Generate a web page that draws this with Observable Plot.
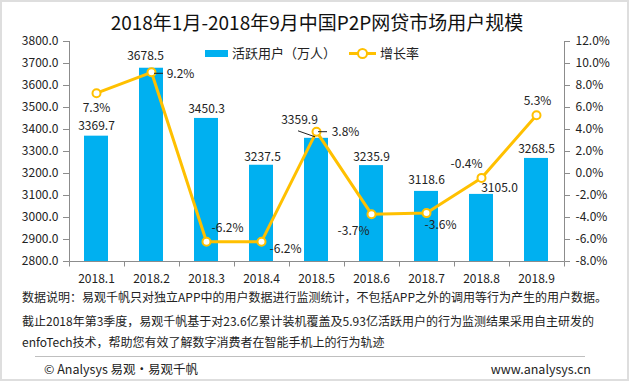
<!DOCTYPE html>
<html><head><meta charset="utf-8">
<script src="https://cdn.jsdelivr.net/npm/d3@7"></script>
<script src="https://cdn.jsdelivr.net/npm/@observablehq/plot@0.6"></script>
<style>
body{margin:0;background:#fff;}
#wrap{position:relative;width:629px;height:381px;overflow:hidden;background:#fff;font-family:'Noto Sans CJK SC','Noto Sans',sans-serif;color:#222;}
#wrap svg{position:absolute;left:0;top:0;overflow:visible;}
.abs{position:absolute;white-space:nowrap;}
#border{position:absolute;left:0;top:0;width:629px;height:381px;box-sizing:border-box;border:2px solid #dedede;pointer-events:none;}
</style></head>
<body>
<div id="wrap">
  <div class="abs" id="title" style="left:0;width:634px;text-align:center;top:10px;font-size:19px;line-height:24px;color:#111;"></div>
  <div class="abs" style="left:205px;top:50px;width:23px;height:7px;background:#00B0F0;"></div>
  <div class="abs" id="leg1" style="left:232px;top:44px;font-size:13px;line-height:18px;"></div>
  <div class="abs" style="left:349px;top:52px;width:27px;height:3px;background:#FFC000;"></div>
  <div class="abs" style="left:357px;top:48px;width:7px;height:7px;border:2px solid #FFC000;border-radius:50%;background:#fff;"></div>
  <div class="abs" id="leg2" style="left:380px;top:44px;font-size:13px;line-height:18px;"></div>
  <div class="abs" id="note1" style="left:22px;top:289px;font-size:12px;line-height:16px;"></div>
  <div class="abs" id="note2" style="left:22px;top:313px;font-size:12px;line-height:16px;"></div>
  <div class="abs" id="note3" style="left:22px;top:334px;font-size:12px;line-height:16px;"></div>
  <div class="abs" style="left:35px;top:356px;width:550px;height:1px;background:#bfbfbf;"></div>
  <div class="abs" id="foot1" style="left:44px;top:360px;font-size:12.5px;line-height:17px;"></div>
  <div class="abs" id="foot2" style="right:38px;top:360px;font-size:12.5px;line-height:17px;"></div>
  <div id="border"></div>
</div>
<script>
// ---- data ----
const titleText = "2018年1月-2018年9月中国P2P网贷市场用户规模";
const seriesBar = "活跃用户（万人）";
const seriesLine = "增长率";
const categories = ["2018.1","2018.2","2018.3","2018.4","2018.5","2018.6","2018.7","2018.8","2018.9"];
const users = [3369.7, 3678.5, 3450.3, 3237.5, 3359.9, 3235.9, 3118.6, 3105.0, 3268.5];
const growth = [7.3, 9.2, -6.2, -6.2, 3.8, -3.7, -3.6, -0.4, 5.3];
const leftTicks = [2800, 2900, 3000, 3100, 3200, 3300, 3400, 3500, 3600, 3700, 3800];
const rightTicks = [-8, -6, -4, -2, 0, 2, 4, 6, 8, 10, 12];
const notes = [
  "数据说明：易观千帆只对独立APP中的用户数据进行监测统计，不包括APP之外的调用等行为产生的用户数据。",
  "截止2018年第3季度，易观千帆基于对23.6亿累计装机覆盖及5.93亿活跃用户的行为监测结果采用自主研发的",
  "enfoTech技术，帮助您有效了解数字消费者在智能手机上的行为轨迹"
];
const footLeft = "© Analysys 易观•易观千帆";
const footRight = "www.analysys.cn";

// ---- label placement (styling, pixel offsets) ----
const barLabelOffsets = [[0,-10],[-6,-12],[0,-9],[1,-8],[-17,-18],[0,-8],[0,-11],[18,-6],[0,-9]];
const growthLabelOffsets = [[0,15],[29,2],[21,-14],[24,7],[29,0],[-18,17],[14,12],[-15,-14],[1,-14]];

// ---- styles ----
const barColor = "#00B0F0", lineColor = "#FFC000", axisColor = "#8c8c8c", textColor = "#222";

document.getElementById("title").textContent = titleText;
document.getElementById("leg1").textContent = seriesBar;
document.getElementById("leg2").textContent = seriesLine;
["note1","note2","note3"].forEach((id,i)=>document.getElementById(id).textContent = notes[i]);
document.getElementById("foot1").textContent = footLeft;
document.getElementById("foot2").textContent = footRight;

// growth (%) mapped onto the left scale domain
const gMin = -8, gMax = 12, yMin = 2800, yMax = 3800;
const g2y = g => yMin + (g - gMin) * (yMax - yMin) / (gMax - gMin);
const y2g = v => gMin + (v - yMin) * (gMax - gMin) / (yMax - yMin);

const rows = categories.map((c,i)=>({cat:c, users:users[i], growth:growth[i], gy:g2y(growth[i])}));

function frameMark(index, scales, values, dim) {
  const g = d3.create("svg:g").attr("stroke", axisColor).attr("stroke-width", 1).attr("fill","none");
  const x0 = dim.marginLeft + 0.5, x1 = dim.width - dim.marginRight + 0.5;
  const yb = dim.height - dim.marginBottom + 0.5, yt = dim.marginTop;
  g.append("line").attr("x1",x0).attr("x2",x0).attr("y1",yt).attr("y2",yb);
  g.append("line").attr("x1",x1).attr("x2",x1).attr("y1",yt).attr("y2",yb);
  g.append("line").attr("x1",x0).attr("x2",x1).attr("y1",yb).attr("y2",yb);
  const step = (x1 - x0) / categories.length;
  for (let i = 0; i <= categories.length; i++) {
    const x = Math.round(x0 + i*step - 0.5) + 0.5;
    g.append("line").attr("x1",x).attr("x2",x).attr("y1",yb).attr("y2",yb+5);
  }
  return g.node();
}

function leaderMark(index, scales) {
  const g = d3.create("svg:g").attr("stroke", "#222").attr("stroke-width", 1);
  const bw = scales.x.bandwidth ? scales.x.bandwidth() : 0;
  const cx = c => scales.x(c) + bw/2;
  const r1 = rows[1];
  g.append("line").attr("x1", cx(r1.cat)+3).attr("x2", cx(r1.cat)+12)
    .attr("y1", scales.y(r1.gy)+1.5).attr("y2", scales.y(r1.gy)+1.5);
  const r4 = rows[4];
  g.append("line").attr("x1", cx(r4.cat)+2).attr("x2", cx(r4.cat)+11)
    .attr("y1", scales.y(r4.gy)+0.5).attr("y2", scales.y(r4.gy)+0.5);
  g.append("line").attr("x1", cx(r4.cat)-18).attr("x2", cx(r4.cat)-1)
    .attr("y1", scales.y(r4.users)-7).attr("y2", scales.y(r4.users)-1);
  return g.node();
}

const barLabels = rows.map((r,i)=>Plot.text([r], {x:"cat", y:"users", text:d=>d.users.toFixed(1),
  dx: barLabelOffsets[i][0], dy: barLabelOffsets[i][1], fontSize: 12, fill: textColor}));
const growthLabels = rows.map((r,i)=>Plot.text([r], {x:"cat", y:"gy", text:d=>d.growth.toFixed(1)+"%",
  dx: growthLabelOffsets[i][0], dy: growthLabelOffsets[i][1], fontSize: 12, fill: textColor}));

const chart = Plot.plot({
  width: 629, height: 290,
  marginLeft: 69, marginRight: 65, marginTop: 41, marginBottom: 29,
  style: {fontFamily: "'Noto Sans CJK SC','Noto Sans',sans-serif", fontSize: "12px", background: "transparent", color: textColor},
  x: {domain: categories, paddingInner: 0.56, paddingOuter: 0.28, axis: null},
  y: {domain: [yMin, yMax], axis: null},
  marks: [
    Plot.barY(rows, {x:"cat", y1: yMin, y2:"users", fill: barColor}),
    frameMark,
    Plot.axisY(leftTicks, {anchor:"left", tickSize:6, tickPadding:5, tickFormat:d=>d.toFixed(1), label:null, stroke: axisColor, fill: textColor, fontSize: 12}),
    Plot.axisY(rightTicks.map(g2y), {anchor:"right", tickSize:5, tickPadding:6, tickFormat:v=>y2g(v).toFixed(1)+"%", label:null, stroke: axisColor, fill: textColor, fontSize: 12}),
    Plot.axisX(categories, {tickSize:0, tickPadding:13, label:null, fill: textColor, fontSize: 12}),
    Plot.line(rows, {x:"cat", y:"gy", stroke: lineColor, strokeWidth: 3}),
    Plot.dot(rows, {x:"cat", y:"gy", r:4, fill:"#fff", stroke: lineColor, strokeWidth: 2}),
    leaderMark,
    ...barLabels,
    ...growthLabels
  ]
});
document.getElementById("wrap").insertBefore(chart, document.getElementById("border"));
</script>
</body></html>
